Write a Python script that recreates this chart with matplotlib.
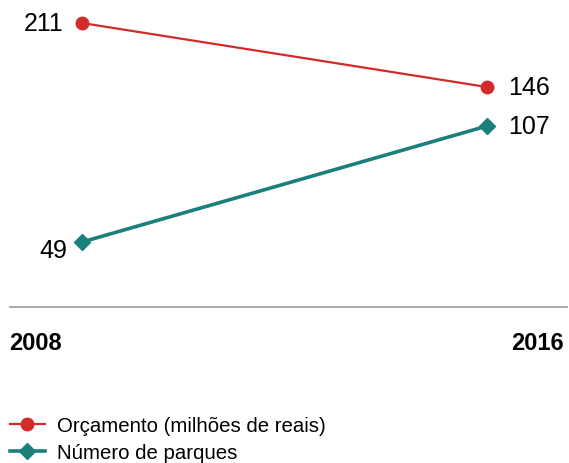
import matplotlib.pyplot as plt

plt.rcParams['font.family'] = ['Liberation Sans', 'DejaVu Sans']

years = [2008, 2016]
orcamento = [211, 146]
parques = [49, 107]
year_labels = ["2008", "2016"]

red = "#d32a2a"
teal = "#1b807b"

fig = plt.figure(figsize=(5.69, 4.64), dpi=100)
ax = fig.add_axes([10/569, 156/464, 557/569, 308/464])
ax2 = ax.twinx()

l1, = ax.plot(years, orcamento, color=red, lw=1.6, marker="o", ms=9,
              label="Orçamento (milhões de reais)")
l2, = ax2.plot(years, parques, color=teal, lw=2.6, marker="D", ms=8,
               label="Número de parques")

ax.set_xlim(2006.577, 2017.58)
ax.set_ylim(-77.4, 235.4)
ax2.set_ylim(16.5, 170.5)

# value labels
ax.annotate(str(orcamento[0]), (years[0], orcamento[0]), xytext=(-13, 0),
            textcoords="offset points", ha="right", va="center", fontsize=18)
ax.annotate(str(orcamento[1]), (years[1], orcamento[1]), xytext=(15, 0),
            textcoords="offset points", ha="left", va="center", fontsize=18)
ax2.annotate(str(parques[0]), (years[0], parques[0]), xytext=(-11, -6),
             textcoords="offset points", ha="right", va="center", fontsize=18)
ax2.annotate(str(parques[1]), (years[1], parques[1]), xytext=(15, 0),
             textcoords="offset points", ha="left", va="center", fontsize=18)

for a in (ax, ax2):
    for s in ("top", "right", "left"):
        a.spines[s].set_visible(False)
    a.set_yticks([])
ax2.spines["bottom"].set_visible(False)
ax.spines["bottom"].set_color("#9a9a9a")
ax.spines["bottom"].set_linewidth(1.2)
ax.set_xticks([])

# year labels under the baseline
fig.text(9/569, 1 - 344/464, year_labels[0], fontsize=17, fontweight="bold",
         ha="left", va="center")
fig.text(564/569, 1 - 344/464, year_labels[1], fontsize=17, fontweight="bold",
         ha="right", va="center")

fig.legend(handles=[l1, l2], loc="upper left", bbox_to_anchor=(10/569, 1 - 417/464),
           frameon=False, fontsize=14.7, handlelength=1.7, handletextpad=0.6,
           labelspacing=0.4, borderaxespad=0, borderpad=0)

fig.savefig("out.png", dpi=100)
